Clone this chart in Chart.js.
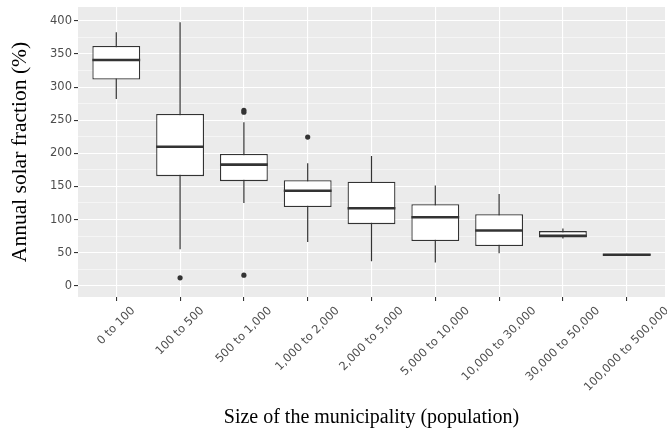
<!DOCTYPE html>
<html>
<head>
<meta charset="utf-8">
<script src="https://cdn.jsdelivr.net/npm/chart.js@4"></script>
<style>
  html, body { margin: 0; padding: 0; background: #ffffff; }
  #wrap { width: 667px; height: 431px; }
</style>
</head>
<body>
<div id="wrap"><canvas id="c" width="667" height="431"></canvas></div>
<script>
// ---- Data ----
const categories = ['0 to 100', '100 to 500', '500 to 1,000', '1,000 to 2,000', '2,000 to 5,000',
                    '5,000 to 10,000', '10,000 to 30,000', '30,000 to 50,000', '100,000 to 500,000'];
const whiskerLow  = [282, 55, 125, 66, 37, 35, 49, 71.5, 45];
const q1          = [311.5, 165.5, 158, 119, 93, 67.5, 60, 73, 45.8];
const median      = [341, 210, 183, 143.5, 117, 103.5, 83.5, 75.5, 46.8];
const q3          = [362, 259.5, 199, 159.5, 157, 123, 108, 82.5, 47.8];
const whiskerHigh = [383, 398, 247, 185, 196, 151.5, 138.5, 86.5, 48.5];
const outlierGroup = ['100 to 500', '500 to 1,000', '500 to 1,000', '500 to 1,000', '1,000 to 2,000'];
const outlierValue = [12, 16, 262, 265, 224.5];
const yTicksMajor = [0, 50, 100, 150, 200, 250, 300, 350, 400];

// ---- Axis that centres rotated labels under their tick ----
const BaseLinear = Chart.LinearScale || Chart.registry.getScale('linear');
class CenteredLinearScale extends BaseLinear {
  _computeLabelItems(chartArea) {
    const items = super._computeLabelItems(chartArea);
    const rot = this.labelRotation * Math.PI / 180;
    const ctx = this.ctx;
    for (const it of items) {
      ctx.save();
      ctx.font = it.font.string;
      const w = ctx.measureText(String(it.label)).width;
      ctx.restore();
      const t = it.options.translation;
      it.options.translation = [t[0] + Math.cos(rot) * w / 2, t[1]];
    }
    return items;
  }
}
CenteredLinearScale.id = 'centeredLinear';
Chart.register(CenteredLinearScale);

const panelBg = {
  id: 'panelBg',
  beforeDraw(chart) {
    const {ctx, chartArea: a} = chart;
    ctx.save();
    ctx.fillStyle = '#EBEBEB';
    ctx.fillRect(a.left, a.top, a.right - a.left, a.bottom - a.top);
    ctx.restore();
  }
};

const idx = categories.map((_, i) => i);
const dark = '#333333';

new Chart(document.getElementById('c'), {
  type: 'bar',
  data: {
    datasets: [
      {
        type: 'bar', label: 'whisker', order: 4, grouped: false,
        data: idx.map(i => ({x: i, y: [whiskerLow[i], whiskerHigh[i]]})),
        backgroundColor: dark, borderWidth: 0,
        barPercentage: 0.05, categoryPercentage: 1, maxBarThickness: 1.2
      },
      {
        type: 'bar', label: 'box', order: 3, grouped: false,
        data: idx.map(i => ({x: i, y: [q1[i], q3[i]]})),
        backgroundColor: '#ffffff', borderColor: dark, borderWidth: 1.3, borderSkipped: false,
        barPercentage: 0.75, categoryPercentage: 1
      },
      {
        type: 'line', label: 'median', order: 2, showLine: false,
        data: idx.map(i => ({x: i, y: median[i]})),
        pointStyle: 'line', pointRadius: 23.9, pointBorderWidth: 2.6,
        borderColor: dark, pointBorderColor: dark, backgroundColor: dark
      },
      {
        type: 'line', label: 'outliers', order: 1, showLine: false,
        data: outlierGroup.map((g, k) => ({x: categories.indexOf(g), y: outlierValue[k]})),
        pointStyle: 'circle', pointRadius: 2.6, pointBorderWidth: 0,
        pointBackgroundColor: dark, backgroundColor: dark, borderColor: dark
      }
    ]
  },
  options: {
    responsive: false,
    animation: false,
    events: [],
    layout: { autoPadding: false, padding: { top: 7, right: 2, left: 0, bottom: 0 } },
    plugins: { legend: { display: false }, tooltip: { enabled: false } },
    scales: {
      x: {
        type: 'centeredLinear',
        offset: false,
        min: -0.6, max: 8.6,
        afterFit(s) { s.height = 134; s.paddingLeft = 0; s.paddingRight = 0; },
        border: { display: false },
        grid: { color: '#ffffff', lineWidth: 1.1, drawTicks: true, tickLength: 4, tickColor: dark, tickWidth: 1.1, offset: false },
        ticks: {
          stepSize: 1, includeBounds: false, autoSkip: false,
          minRotation: 45, maxRotation: 45, padding: 3,
          color: '#4D4D4D', font: { family: 'DejaVu Sans', size: 11.5 },
          callback: (v) => Number.isInteger(v) && categories[v] !== undefined ? categories[v] : ''
        },
        title: {
          display: true, text: 'Size of the municipality (population)',
          color: '#000000', font: { family: 'Liberation Serif', size: 20, lineHeight: 1.2 },
          padding: { top: 0, bottom: 1 }
        }
      },
      y: {
        min: -17, max: 421,
        afterFit(s) { s.width = 78; s.paddingTop = 0; s.paddingBottom = 0; },
        border: { display: false },
        grid: {
          color: '#ffffff',
          lineWidth: (c) => yTicksMajor.includes(c.tick.value) ? 1.1 : 0.5,
          drawTicks: true, tickLength: 4, tickWidth: 1.1,
          tickColor: (c) => yTicksMajor.includes(c.tick.value) ? dark : 'rgba(0,0,0,0)'
        },
        ticks: {
          stepSize: 25, includeBounds: false, autoSkip: false, padding: 2,
          color: '#4D4D4D', font: { family: 'DejaVu Sans', size: 11.5 },
          callback: (v) => yTicksMajor.includes(v) ? String(v) : ''
        },
        title: {
          display: true, text: 'Annual solar fraction (%)',
          color: '#000000', font: { family: 'Liberation Serif', size: 21.5, lineHeight: 1.2 },
          padding: { top: 7, bottom: 0 }
        }
      }
    }
  },
  plugins: [panelBg]
});
</script>
</body>
</html>
